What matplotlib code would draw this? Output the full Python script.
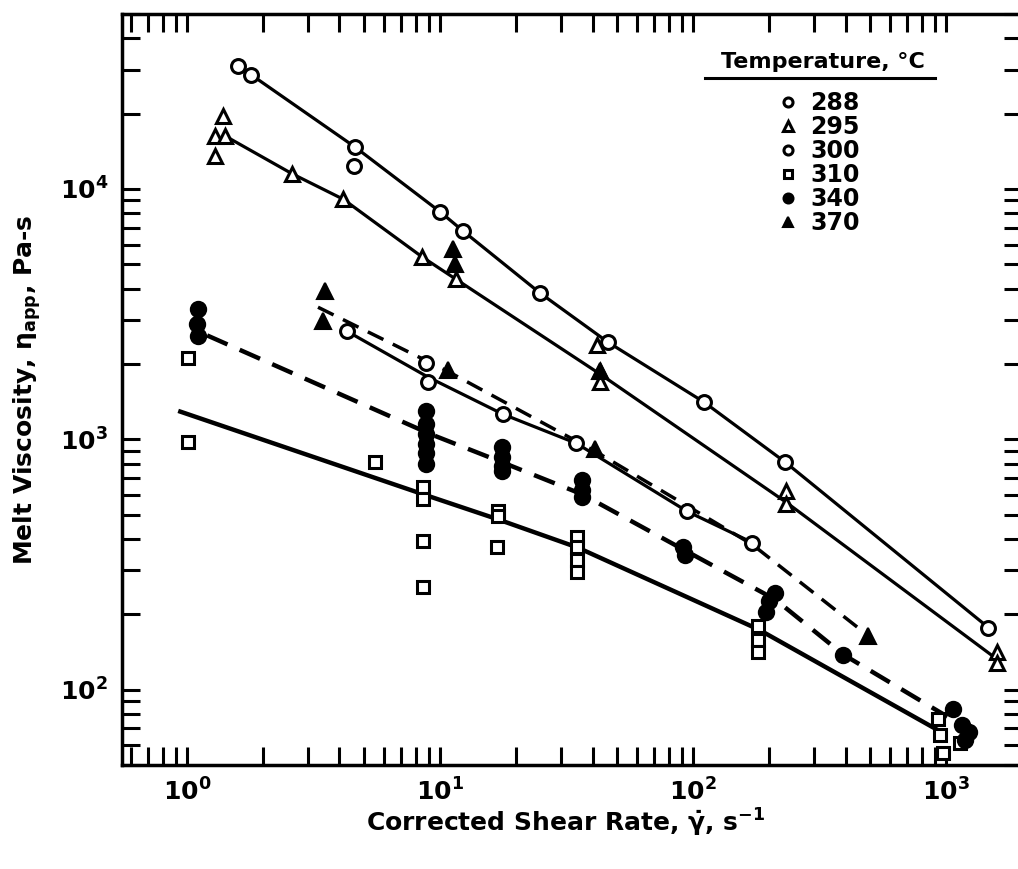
import matplotlib
matplotlib.use("Agg")
import matplotlib.pyplot as plt

plt.rcParams['font.family'] = ['DejaVu Sans']
plt.rcParams['font.weight'] = 'bold'
plt.rcParams['mathtext.fontset'] = 'custom'
plt.rcParams['mathtext.rm'] = 'DejaVu Sans:bold'
plt.rcParams['mathtext.it'] = 'DejaVu Sans:bold'
plt.rcParams['mathtext.bf'] = 'DejaVu Sans:bold'
plt.rcParams['mathtext.sf'] = 'DejaVu Sans:bold'

# measured points (shear rate 1/s, viscosity Pa-s)
t288_rate = [1.59, 1.79, 4.61, 4.57, 10.0, 12.3, 24.8, 46.1, 110, 231, 1466]
t288_visc = [31000, 28600, 14700, 12400, 8100, 6800, 3840, 2440, 1410, 810, 177]

t295_rate = [1.39, 1.29, 1.41, 1.29, 2.60, 4.14, 8.49, 11.5, 41.8, 42.9, 42.9, 233, 233, 1590, 1590]
t295_visc = [19600, 16300, 16300, 13500, 11500, 9100, 5350, 4370, 2380, 1870, 1690, 620, 550, 141, 128]

t300_rate = [4.29, 8.8, 8.97, 17.7, 34.5, 94.7, 171]
t300_visc = [2700, 2010, 1690, 1260, 964, 515, 387]

t310_rate = [1.01, 1.01, 5.53, 8.57, 8.57, 8.57, 8.57, 16.9, 16.9, 16.8, 34.8, 34.8, 34.8, 34.8,
             181, 181, 181, 930, 973, 1135, 947]
t310_visc = [2110, 973, 809, 643, 575, 391, 258, 515, 492, 370, 409, 373, 331, 296,
             179, 158, 141, 76, 56, 61, 66]

t340_rate = [1.105, 1.095, 1.105, 8.8, 8.8, 8.8, 8.8, 8.8, 8.8, 17.6, 17.6, 17.6, 17.6,
             36.4, 36.4, 36.4, 91.3, 93, 211, 200, 193, 392, 1066, 1150, 1230, 1180]
t340_visc = [3310, 2880, 2580, 1300, 1150, 1050, 960, 880, 800, 930, 850, 780, 750,
             690, 630, 590, 370, 345, 244, 225, 205, 138, 84, 72, 68, 63]

t370_rate = [3.51, 3.45, 11.25, 11.4, 10.7, 41.0, 42.9, 492]
t370_visc = [3900, 2960, 5750, 5010, 1900, 912, 1870, 164]

# drawn curves
fit288_rate = [1.79, 4.61, 10.0, 12.3, 24.8, 46.1, 110, 231, 1466]
fit288_visc = [28600, 14700, 8100, 6800, 3840, 2440, 1410, 810, 177]
fit295_rate = [1.41, 2.60, 4.14, 8.49, 11.5, 42.9, 233, 1590]
fit295_visc = [16300, 11500, 9100, 5350, 4370, 1820, 560, 132]
fit300_rate = [4.29, 8.97, 17.7, 34.5, 94.7, 171]
fit300_visc = [2700, 1770, 1260, 964, 515, 387]
fit310_rate = [0.94, 8.57, 16.9, 34.8, 181, 973]
fit310_visc = [1290, 603, 479, 370, 174, 67]
fit340_rate = [1.20, 9.13, 17.6, 36.4, 91.3, 211, 392, 1009]
fit340_visc = [2600, 1050, 809, 603, 363, 229, 138, 78]
fit370_rate = [3.29, 10.7, 41.0, 171, 492]
fit370_visc = [3370, 1870, 895, 380, 164]

temps = ['288', '295', '300', '310', '340', '370']

fig = plt.figure(figsize=(10.18, 8.69), dpi=100)
ax = fig.add_axes([122 / 1018, 104 / 869, 900 / 1018, 751 / 869])

ax.plot(fit288_rate, fit288_visc, '-', color='k', lw=2.3, zorder=2)
ax.plot(fit295_rate, fit295_visc, '-', color='k', lw=2.3, zorder=2)
ax.plot(fit300_rate, fit300_visc, '-', color='k', lw=2.3, zorder=2)
ax.plot(fit310_rate, fit310_visc, '-', color='k', lw=3.2, zorder=2)
ax.plot(fit340_rate, fit340_visc, '--', color='k', lw=3.2, dashes=(5, 3), zorder=2)
ax.plot(fit370_rate, fit370_visc, '--', color='k', lw=2.5, dashes=(5, 3), zorder=2)

open_kw = dict(ls='none', mfc='white', mec='k', mew=2.2, zorder=3)
fill_kw = dict(ls='none', mfc='k', mec='k', mew=1.5, zorder=3)
h288, = ax.plot(t288_rate, t288_visc, marker='o', ms=10, **open_kw)
h295, = ax.plot(t295_rate, t295_visc, marker='^', ms=10, **open_kw)
h300, = ax.plot(t300_rate, t300_visc, marker='o', ms=10, **open_kw)
h310, = ax.plot(t310_rate, t310_visc, marker='s', ms=9, **open_kw)
h340, = ax.plot(t340_rate, t340_visc, marker='o', ms=11, **fill_kw)
h370, = ax.plot(t370_rate, t370_visc, marker='^', ms=11, **fill_kw)

ax.set_xscale('log')
ax.set_yscale('log')
ax.set_xlim(0.553, 1990)
ax.set_ylim(50, 50000)

for s in ax.spines.values():
    s.set_linewidth(2.5)
ax.tick_params(which='both', direction='in', top=True, right=True, length=13, width=2.2,
               labelsize=18, pad=10)

ax.set_ylabel(r'Melt Viscosity, $\eta_{\mathrm{app}}$, Pa-s', fontsize=18, fontweight='bold')
ax.yaxis.set_label_coords(-0.088, 0.5)
ax.set_xlabel(r'Corrected Shear Rate, $\dot{\gamma}$, s$^{-1}$', fontsize=18, fontweight='bold')
ax.xaxis.set_label_coords(0.493, -0.055)

leg = ax.legend([h288, h295, h300, h310, h340, h370], temps,
                loc='upper left', bbox_to_anchor=(0.729, 0.897), frameon=False,
                borderpad=0, borderaxespad=0,
                handlelength=0.8, handletextpad=0.55, labelspacing=0.0,
                markerscale=0.65, fontsize=17)
ax.text(0.779, 0.936, 'Temperature, °C', transform=ax.transAxes, fontsize=16,
        fontweight='bold', ha='center', va='center')
ax.plot([0.648, 0.903], [0.915, 0.915], transform=ax.transAxes, color='k', lw=2.2,
        clip_on=False)

fig.savefig('out.png', dpi=100)
